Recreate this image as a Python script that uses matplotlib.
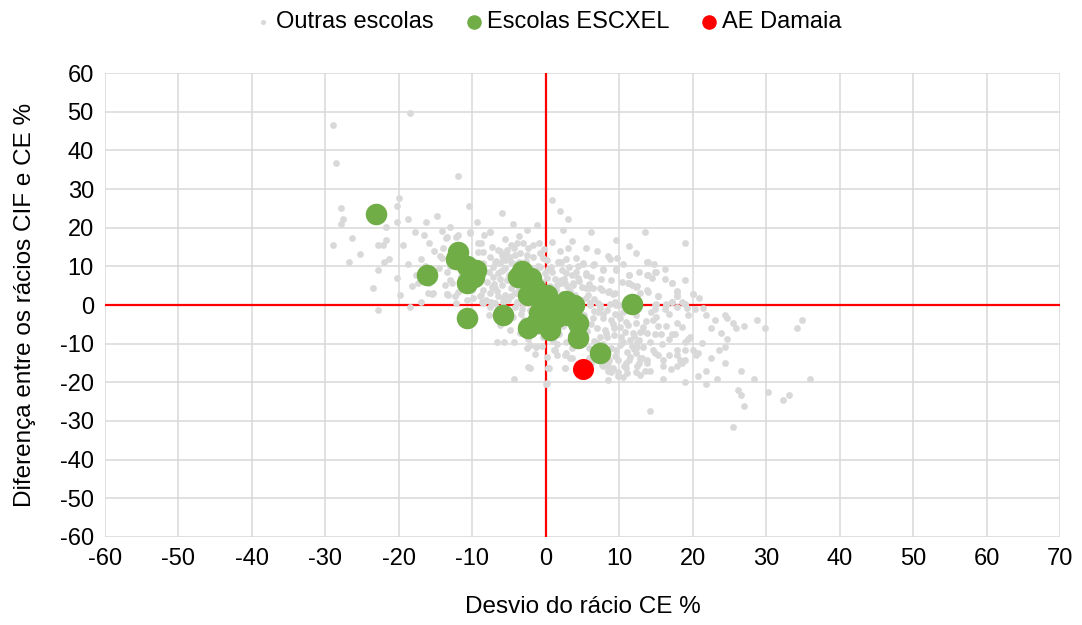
import numpy as np
import matplotlib.pyplot as plt

plt.rcParams['font.family'] = ['Liberation Sans', 'DejaVu Sans']
plt.rcParams['axes.unicode_minus'] = False

# --- data (approximate) ---
# other schools: (desvio CE %, diferenca CIF-CE %)
outras_x = [
    -18.5, -29.0, -28.6, -11.9, -20.0, -27.9, -27.6, -27.9, -20.3, -10.5, -18.8, -14.8, -16.3, -9.4, -20.3,
    -26.4, -29.0, -25.3, -26.8, -22.8, -22.1, -21.7, -21.7, -22.8, -22.0, -21.4, -20.3, -23.5, -19.5, -18.8,
    -17.8, -16.6, -15.9, -14.1, -13.0, -13.6, -11.9, -10.3, -8.9, -7.6, -15.2, -14.4, -17.7, -17.0, -17.4,
    -15.9, -15.5, -13.5, -22.8, -18.5, -17.0, -6.7, -5.7, -4.3, -4.9, -6.3, -2.6, -1.3, -2.2, -2.4,
    -2.2, -4.3, 0.1, 0.3, -9.9, -8.7, -12.2, -16.0, -15.3, -13.5, -8.5, -7.6, -4.0,
    0.8, 1.9, 3.0, 6.2, 13.5, 18.9, 3.0, 5.5, 8.7, 13.8, 14.9, 13.8, 11.3, 17.1, 17.8,
    20.0, 11.3, 12.4, 7.7, 6.6, 5.1, 1.8, 2.2, 9.5, 5.5, 5.9, 7.3, 8.6, 9.1, 4.4, 3.7,
    1.7, 2.1, 5.1, 6.4, 7.8, 9.6, 0.3, 0.8, 2.8, 3.5, 5.5, 11.3, 12.6, 13.7, 2.1, 2.6, 1.5,
    3.7, 4.9, 5.5, 6.4, 7.6, 8.5, 9.4, 11.2, 11.7, 12.3, 12.8, 13.7, 6.0, 7.1, 8.7, 9.4, 10.1,
    5.5, 4.2, 13.9, 13.9, 14.4, 15.0, 17.1, 13.9, 15.3, 17.8, 17.8, 17.1, 18.5, 18.9, 16.4,
    15.0, 20.3, 16.2, 14.8,
    20.0, 17.8, 18.9, 14.9, 16.4, 17.1, 15.3, 17.8, 19.3, 21.8, 24.4, 24.7, 25.4, 26.9, 28.7,
    29.8, 34.9, 34.1, 22.5, 25.8, 24.7, 19.3, 18.9, 20.7, 20.4, 24.4, 23.6, 24.4, 26.5, 21.8,
    20.7, 23.3, 21.8, 28.3, 36.0, 26.2, 26.5, 26.9, 30.2, 33.1, 32.3, 25.4, 14.2, 18.9, 16.0,
    17.8, 18.9, 18.5, 17.8, 17.8, 16.7, 15.3, 14.6, 16.0, 14.2, 13.1, 12.7, 12.4, 10.9, 10.6,
    10.9, 9.8, 8.4, 9.1, 13.5, 2.6, 0.4, 0.0, 1.1, 1.5, 3.3, 7.7, 8.4, 9.8, 11.3, 12.4, 12.0,
    12.4, 14.2, 14.9, 15.6, 17.1, 17.5, 15.3, 16.4, 14.6, 13.1, 17.8, 18.9, 18.2, 20.0,
    1.2, 2.6, 3.5, 0.3, 2.6, 7.6, 8.5, 8.9, 8.5, 9.8, 11.0, 10.5, 12.3, 12.8, 8.9, 9.6, 10.1,
    11.0, 11.4, 12.3, 12.8, 13.7, 13.7, 10.5, 11.4, 12.6, 7.3, 8.3, 9.2, 6.9, 8.0, 9.2, 10.1,
    10.7, 11.9, 12.8, 13.7, 11.2, 12.3, 13.2, 6.4, 7.8, 8.9, 10.1, 7.1, 8.3, 9.4, 10.5, 6.0,
    7.3, 9.6, 5.8, 6.7, 5.8, 6.2,
    -13.5, -12.2, -10.3, -7.6, -14.0, -14.2, -9.2, -9.2, -8.5, -7.4, -6.5, -6.0, -5.3, -4.7,
    -4.0, -3.1, -2.4, -1.7, -1.0, -7.6, -6.9, -6.3, -5.6, -4.9, -4.2, -3.5, -2.6, -1.7, -0.8,
    -0.4, -7.8, -7.2, -6.5, -5.8, -5.3, -6.0, -6.9, -7.6, -6.5, -5.6, -4.7, -4.2, -5.1, -13.5,
    -13.1, -13.7, -13.3, -12.4, -10.8, -11.9, -8.5, -9.0, -8.1, -0.8, -0.1, 0.1, -5.8, -4.0,
    -6.9, 0.1, -8.4, -6.3, -5.4, -4.3, -5.8, -4.7, -3.6,
    -8.0, -7.0, -6.2, -5.0, -4.5, -3.7, -2.8, -2.0, -1.2, -0.5, 0.6, 1.4, 2.2, 3.3, 0.9, -0.8,
    -1.9, -3.0, -4.2, -3.4, -2.2, -0.6, 1.1, 2.4, 1.8, 0.3, -1.5, -3.0, -4.5, -5.2, -6.5, -7.5,
    -8.8, -10.0, -11.2, -12.8, -11.5, -8.5, -7.2, -6.8, -11.0, -13.0, -14.5, -15.6, -16.5,
    -18.2, -19.8, 2.3, 3.5, 1.8, -0.4, 2.8, 3.6, 5.6, 5.1, 6.1, 5.2, 6.5, 2.0, -1.0, -3.5,
    -2.4, -0.5, 1.5, 0.2, -1.5, -7.8, 2.8, 4.1, -0.2, 0.8, 1.9, 3.5, -2.6, -4.5, -6.0, -3.6,
    -5.5, -1.2, 2.3, 7.0, 8.4, 9.7, 10.5, 8.8, 10.3, 7.5, 6.2, 4.5, 3.2, 4.3, 6.5, 7.8, 9.4,
    8.6, 12.0, 13.2, 15.8, 16.8, 15.0, 16.8, 18.5, 19.2, 14.3, 12.2, 13.6, 10.9, 10.2, 11.7,
    14.8, 15.9, 17.0, 19.6, 21.2, 22.4, 23.0, 21.4, 20.8, 23.8, 18.9, 16.2, 16.2, 14.7, 12.2,
    11.3, 9.5,
    -6.6, -5.9, -4.8, -3.9, -3.1, -2.3, -1.6, -0.9, 0.4, 1.2, 2.0, 2.9, 3.9, 4.8, 5.7, 6.6,
    7.4, -5.5, -4.1, -2.7, -1.1, 0.7, 2.5, 4.1, 5.9, 7.7, 9.1, -7.3, -6.1, -4.6, -3.3, -0.2,
    1.6, 3.4, 5.3, 6.9, 8.2, 9.9, 1.0, 2.7,
]
outras_y = [
    49.8, 46.5, 36.8, 33.3, 27.8, 25.0, 22.3, 20.9, 25.7, 25.7, 22.3, 23.0, 21.6, 21.6, 21.6,
    17.4, 15.4, 13.3, 11.2, 15.4, 15.4, 16.8, 20.2, 9.1, 11.2, 11.9, 7.1, 4.3, 15.4, 10.5,
    18.8, 18.1, 16.1, 19.2, 20.2, 17.4, 18.1, 18.8, 16.1, 18.8, 14.0, 12.6, 7.8, 11.9, 5.7,
    5.7, 2.9, 2.9, -1.3, -0.6, 0.9, -9.5, -9.5, -9.5, -6.5, -5.2, -11.2, -10.8, -10.4, -16.0,
    -16.4, -19.2, -20.3, -16.4, 1.7, 0.9, 0.4, 3.0, 3.0, 2.8, 0.4, -0.4, 0.4,
    27.1, 24.4, 22.3, 18.8, 18.8, 16.1, 14.7, 14.7, 11.9, 11.2, 8.5, 7.8, 7.8, 5.7, 3.6,
    2.9, 5.7, 5.0, 9.1, 10.5, 10.5, 11.2, 9.1, 9.1, 7.8, 4.3, 4.3, 3.6, 2.9, 7.1, 5.7,
    11.2, 11.2, 10.8, 10.4, 9.2, 9.2, 9.2, 8.6, 8.2, 7.8, 8.2, 7.8, 8.6, 11.2, 6.5, 5.6, 5.2,
    5.2, 4.7, 4.3, 4.3, 3.9, 3.4, 3.0, 5.6, 5.2, 4.7, 3.0, 3.9, 0.4, 0.4, 0.3, 0.9, 0.0,
    1.7, 1.7, 11.2, 7.8, 6.9, 8.5, 5.6, 3.4, 2.2, 3.4, 2.2, 0.9, 0.9, 0.3, 0.3,
    0.3, -1.0, -1.0, -1.0,
    2.9, 2.2, 0.2, 0.0, 0.0, 0.9, 2.3, -0.5, -2.6, -2.6, -2.6, -3.3, -4.7, -5.4, -4.0,
    -6.0, -4.0, -6.0, -6.0, -6.0, -8.8, -8.8, -9.5, -12.3, -13.0, -10.9, -11.6, -15.0, -17.1, -17.1,
    -18.5, -19.2, -20.5, -19.2, -19.2, -21.9, -23.3, -26.1, -22.6, -23.3, -24.7, -31.6, -27.5, -19.9, -19.2,
    -15.7, -14.3, -15.0, -11.6, -13.0, -13.0, -13.0, -11.6, -15.7, -17.1, -13.6, -15.0, -15.7, -15.0, -15.7,
    -16.4, -18.5, -17.1, -16.4, -17.1, -16.4, -16.4, -20.5, -11.6, -13.0, -13.6, -15.7, -15.0, -14.3, -14.3, -9.5, -8.1,
    -10.9, -9.5, -7.4, -7.4, -7.4, -7.4, -5.4, -5.4, -4.0, -6.7, -4.7, -11.6, -14.3, -11.6,
    -11.7, -13.0, -13.8, -16.4, -16.4, -15.5, -16.4, -17.3, -19.4, -17.3, -17.7, -18.6, -17.3, -18.1, -11.2, -11.7, -10.4,
    -12.1, -13.4, -12.5, -13.8, -14.2, -15.1, -9.5, -9.1, -9.1, -8.2, -8.2, -7.8, -6.0, -6.5, -6.0, -5.6,
    -6.9, -7.3, -6.9, -7.3, -5.2, -4.7, -5.6, -3.4, -3.4, -3.9, -3.4, -1.7, -1.3, -2.2, -1.7, 0.0,
    0.0, 0.0, -11.2, -12.5, -13.8, -15.1,
    17.7, 17.7, 18.6, 19.0, 14.7, 12.1, 16.0, 13.8, 13.8, 15.1, 14.2, 13.0, 14.2, 15.5,
    16.0, 16.0, 14.7, 15.5, 16.0, 12.5, 11.2, 10.8, 11.7, 12.5, 13.0, 13.4, 13.0, 12.5, 13.4,
    12.1, 8.6, 7.3, 8.2, 9.1, 6.5, 5.2, 4.3, 3.0, 2.2, 2.6, 4.3, 3.0, 1.3, 8.6,
    6.5, 5.2, 2.6, 2.2, 1.3, 3.4, 3.9, 2.2, 1.3, 9.9, 8.2, 6.9, 0.9, 0.9,
    0.4, 11.7, 18.1, 14.0, 13.3, 14.7, 12.1, 11.2, 11.2,
    6.0, 5.5, 6.8, 7.8, 5.5, 4.5, 5.8, 9.5, 8.0, 6.0, 5.0, 3.8, 2.9, 3.5, 1.2, 3.2,
    0.6, 1.5, -0.6, -2.2, -1.3, -1.5, -1.8, -0.7, 0.9, -3.8, -3.0, -4.0, -3.2, -1.2, -0.8, 0.8,
    2.6, 3.8, 4.2, 5.8, 7.5, 10.8, 9.8, 11.5, 11.2, 10.0, 9.5, 8.2, 10.2,
    4.8, 2.5, -5.5, -6.3, -7.5, -8.3, -9.5, -11.0, -6.8, -9.8, -5.0, -2.6, -1.5, -4.0, -6.8, -7.2,
    -8.8, -10.5, -10.2, -13.5, -12.8, -2.5, 11.8, 12.2, 14.5, 16.2, 14.1, 16.5, 19.5, 21.0, 23.8, 17.8,
    17.2, 20.8, 19.4, 14.0, 12.8, 12.1, 10.5, 6.5, 6.0, 6.8, 7.2, 6.2, 9.8, 10.0, -9.3, -10.2, -13.3,
    -14.3, -11.3, -10.8, -10.2, -8.8, -3.2, -2.2, -5.8, -0.8, -1.8, -2.7, -4.1, -4.3, -8.4, -10.6,
    -12.4, -14.3, -16.5, -8.3, -9.9, -13.6, -3.8, -0.9, 1.9, -7.2, 6.4, 6.6, 9.2, 10.6, 13.5,
    15.2, 16.8,
    3.6, 1.9, 2.4, 3.1, 0.3, 1.8, 2.2, -0.4, 4.2, 6.8, 5.8, 4.8, 2.6, 1.2, 2.7, 1.6,
    -0.8, 9.6, 10.6, 11.4, 10.2, 9.8, 6.6, 8.6, 5.4, -2.2, -4.8, 4.6, 8.7, 6.3, -1.1, -3.1,
    -5.2, -7.8, -4.4, -9.8, -7.2, -2.8, -9.2, -12.4,
]

# ESCXEL schools
escxel_x = [-23.1, -16.2, -12.0, -12.3, -10.8, -9.5, -9.8, -10.8, -10.8, -5.8, -3.2, -3.8, -2.0,
            -2.5, -1.5, 0.2, 0.0, -1.0, -2.4, -1.3, 0.5, 1.5, 2.8, 3.8, 3.0, 4.3, 4.4, 7.3, 11.7, -0.5]
escxel_y = [23.6, 7.8, 13.8, 11.8, 10.0, 9.0, 7.3, 5.6, -3.4, -2.6, 8.8, 7.2, 7.0,
            2.5, 4.5, 2.6, -0.3, -2.0, -5.9, -4.7, -6.5, -3.2, 1.0, 0.1, -2.5, -4.6, -8.6, -12.3, 0.2, 1.0]

# AE Damaia
damaia_x = [5.1]
damaia_y = [-16.5]

xticks = np.arange(-60, 71, 10)
yticks = np.arange(-60, 61, 10)

fig = plt.figure(figsize=(10.82, 6.25), dpi=100)
ax = fig.add_axes([0.097, 0.141, 0.883, 0.742])

ax.set_xlim(-60, 70)
ax.set_ylim(-60, 60)
ax.set_xticks(xticks)
ax.set_yticks(yticks)
ax.grid(True, color='#d9d9d9', linewidth=1.1, zorder=0)
ax.set_axisbelow(True)
for s in ax.spines.values():
    s.set_visible(False)
ax.tick_params(length=0, labelsize=17, pad=8)

ax.axhline(0, color='#ff0000', linewidth=1.6, zorder=1)
ax.axvline(0, color='#ff0000', linewidth=1.6, zorder=1)

ax.scatter(outras_x, outras_y, s=24, color='#d9d9d9', linewidths=0, zorder=2, label='Outras escolas')
ax.scatter(escxel_x, escxel_y, s=240, color='#70ad47', linewidths=0, zorder=3, label='Escolas ESCXEL')
ax.scatter(damaia_x, damaia_y, s=230, color='#ff0000', linewidths=0, zorder=4, label='AE Damaia')

ax.set_xlabel('Desvio do rácio CE %', fontsize=17.5, labelpad=19)
ax.set_ylabel('Diferença entre os rácios CIF e CE %', fontsize=17.5, labelpad=17)

leg = fig.legend(loc='center', bbox_to_anchor=(0.505, 0.965), ncol=3, frameon=False, fontsize=17,
                 handletextpad=0.05, columnspacing=1.2, handlelength=1.0)
for h, size in zip(leg.legend_handles, [14, 110, 110]):
    h.set_sizes([size])

fig.savefig('out.png', dpi=100)
